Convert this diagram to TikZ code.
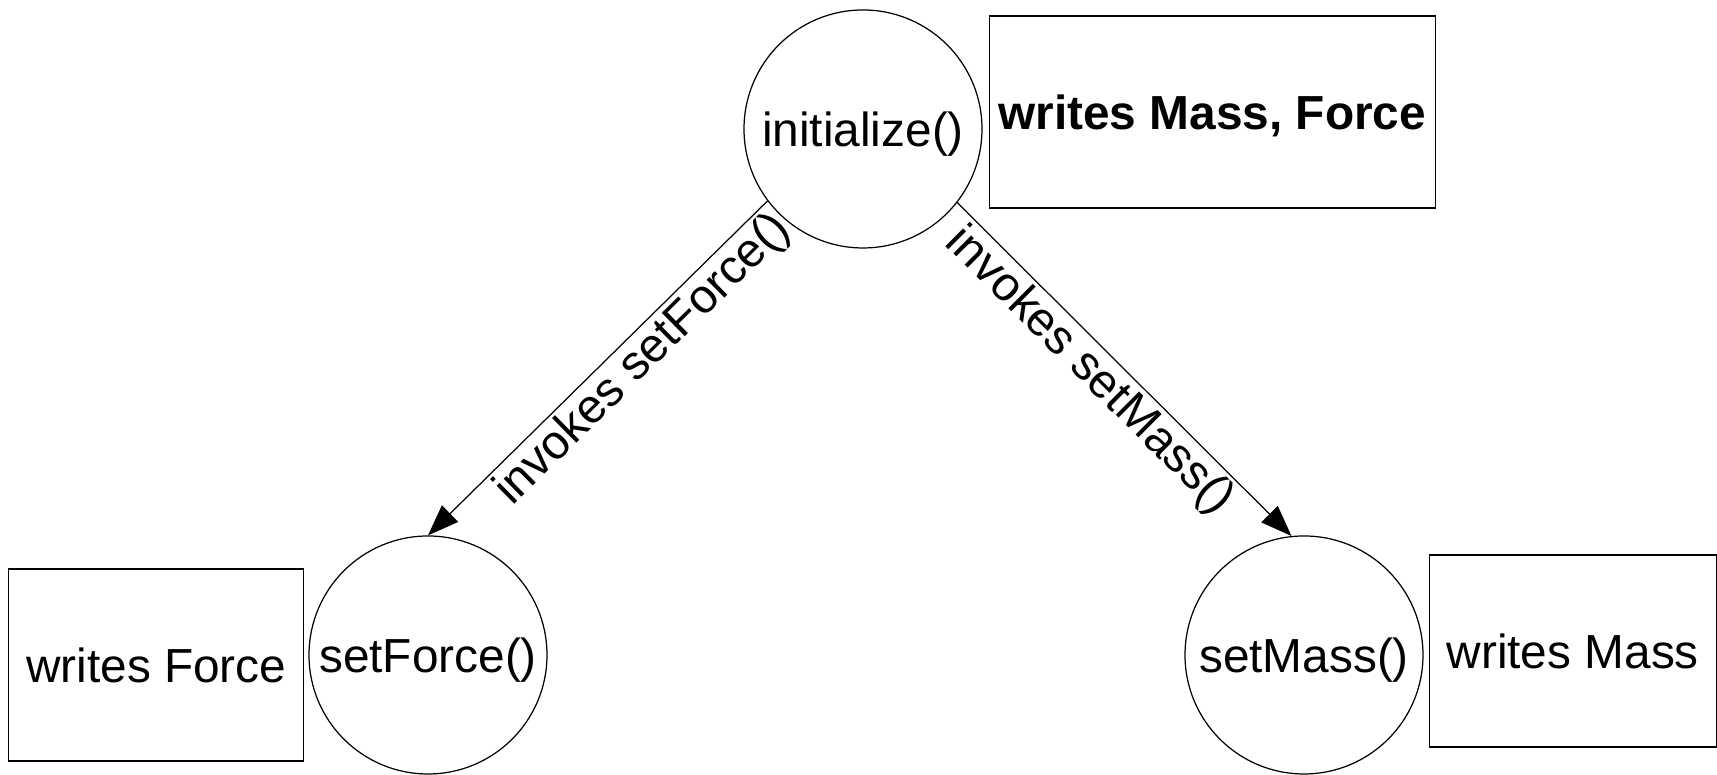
\documentclass[tikz,border=0pt]{standalone}
\usepackage{fontspec}
\setmainfont{Liberation Sans}
\usepackage{tikz}
\usetikzlibrary{positioning,shapes,arrows.meta}

\begin{document}
\begin{tikzpicture}[%
        ->,
        >={Triangle[length=0.31cm,width=0.23cm]},
        line width=0.35pt,
        font=\fontsize{13.6}{16}\selectfont,
        method/.style={%
          circle,
          minimum size=2.38cm,
          inner sep=0pt,
          text depth=0pt,
          draw
        },
        note/.style={%
          rectangle,
          minimum height=1.92cm,
          inner sep=0pt,
          text depth=0pt,
          draw
        }
      ]
      \useasboundingbox (0,0) rectangle (17.17,7.75);
      \node[method] (init) at (8.63,6.46) {initialize()};
      \node[method] (setf) at (4.28,1.20) {setForce()};
      \node[method] (setm) at (13.04,1.20) {setMass()};
      \node[note, minimum width=4.46cm] (initnote) [right=0.06cm of init, yshift=0.17cm] {\bfseries writes Mass, Force};
      \node[note, minimum width=2.95cm] (setfnote) [left=0.04cm of setf, yshift=-0.10cm] {writes Force};
      \node[note, minimum width=2.87cm] (setmnote) [right=0.05cm of setm, yshift=0.04cm] {writes Mass};

      \path (init.217) edge [] node [sloped, below, pos=0.42, inner sep=1pt] {invokes setForce()} (setf.north)
      (init.322) edge [] node [sloped, below, pos=0.45, inner sep=1pt] {invokes setMass()} (setm.96);

  \end{tikzpicture}
\end{document}
